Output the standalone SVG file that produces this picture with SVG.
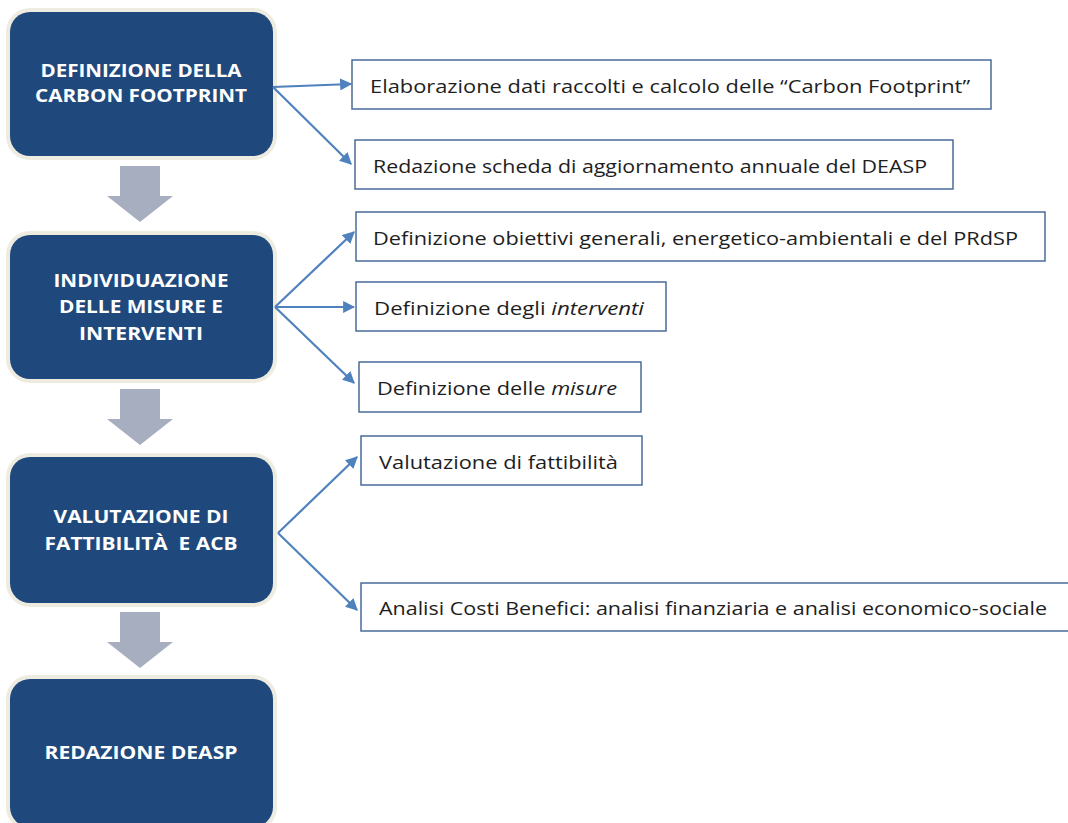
<svg xmlns="http://www.w3.org/2000/svg" width="1068" height="823" viewBox="0 0 1068 823">
<defs>
<style>
.halo{fill:#EEECE1}
.main{fill:#1F497D}
.head{font-family:"Open Sans","Liberation Sans",sans-serif;font-weight:bold;font-size:18px;fill:#FFFFFF;text-anchor:middle}
.tbox{fill:#FFFFFF;stroke:#4A6C9B;stroke-width:1.5}
.lbl{font-family:"Open Sans","Liberation Sans",sans-serif;font-size:19px;fill:#1E1E1E}
.flow{fill:#A7AEBF}
.conn{stroke:#4F81BD;stroke-width:2.2;fill:none;marker-end:url(#ah)}
</style>
<marker id="ah" viewBox="0 0 10 10" refX="9" refY="5" markerWidth="5.5" markerHeight="5.5" orient="auto" markerUnits="strokeWidth">
<path d="M0,0 L10,5 L0,10 z" fill="#4F81BD"/>
</marker>
</defs>
<rect width="1068" height="823" fill="#FFFFFF"/>

<g id="flow-arrows">
<path class="flow" d="M120,166 H160 V196 H173 L140,222 L107,196 H120 Z"/>
<path class="flow" d="M120,389 H160 V419 H173 L140,445 L107,419 H120 Z"/>
<path class="flow" d="M120,612 H160 V642 H173 L140,668 L107,642 H120 Z"/>
</g>

<g id="node-definizione">
<rect class="halo" x="6" y="8" width="271" height="152" rx="24"/>
<rect class="main" x="10" y="12" width="263" height="144" rx="20"/>
<text class="head" x="141" y="77" textLength="201" lengthAdjust="spacingAndGlyphs">DEFINIZIONE DELLA</text>
<text class="head" x="141" y="102" textLength="212" lengthAdjust="spacingAndGlyphs">CARBON FOOTPRINT</text>
</g>

<g id="node-individuazione">
<rect class="halo" x="6" y="231" width="271" height="152" rx="24"/>
<rect class="main" x="10" y="235" width="263" height="144" rx="20"/>
<text class="head" x="141" y="287" textLength="175" lengthAdjust="spacingAndGlyphs">INDIVIDUAZIONE</text>
<text class="head" x="141" y="313" textLength="164" lengthAdjust="spacingAndGlyphs">DELLE MISURE E</text>
<text class="head" x="141" y="340" textLength="124" lengthAdjust="spacingAndGlyphs">INTERVENTI</text>
</g>

<g id="node-valutazione">
<rect class="halo" x="6" y="453" width="271" height="154" rx="24"/>
<rect class="main" x="10" y="457" width="263" height="146" rx="20"/>
<text class="head" x="141" y="523" textLength="175" lengthAdjust="spacingAndGlyphs">VALUTAZIONE DI</text>
<text class="head" x="141" y="550" textLength="193" lengthAdjust="spacingAndGlyphs" xml:space="preserve">FATTIBILITÀ  E ACB</text>
</g>

<g id="node-redazione">
<rect class="halo" x="6" y="675" width="271" height="156" rx="24"/>
<rect class="main" x="10" y="679" width="263" height="148" rx="20"/>
<text class="head" x="141" y="759" textLength="193" lengthAdjust="spacingAndGlyphs">REDAZIONE DEASP</text>
</g>

<g id="connectors">
<line class="conn" x1="273" y1="87" x2="351" y2="84"/>
<line class="conn" x1="273" y1="87" x2="351" y2="164"/>
<line class="conn" x1="275" y1="307" x2="354" y2="232"/>
<line class="conn" x1="275" y1="307" x2="354" y2="307"/>
<line class="conn" x1="275" y1="307" x2="354" y2="383"/>
<line class="conn" x1="278" y1="533" x2="357" y2="457"/>
<line class="conn" x1="278" y1="533" x2="357" y2="610"/>
</g>

<g id="task-elaborazione">
<rect class="tbox" x="352" y="60" width="639" height="49"/>
<text class="lbl" x="370" y="93" textLength="600" lengthAdjust="spacingAndGlyphs">Elaborazione dati raccolti e calcolo delle “Carbon Footprint”</text>
</g>

<g id="task-scheda">
<rect class="tbox" x="355" y="140" width="598" height="49"/>
<text class="lbl" x="373" y="173" textLength="554" lengthAdjust="spacingAndGlyphs">Redazione scheda di aggiornamento annuale del DEASP</text>
</g>

<g id="task-obiettivi">
<rect class="tbox" x="356" y="212" width="689" height="49"/>
<text class="lbl" x="373" y="245" textLength="645" lengthAdjust="spacingAndGlyphs">Definizione obiettivi generali, energetico-ambientali e del PRdSP</text>
</g>

<g id="task-interventi">
<rect class="tbox" x="356" y="282" width="310" height="49"/>
<text class="lbl" x="374" y="315" textLength="270" lengthAdjust="spacingAndGlyphs">Definizione degli <tspan font-style="italic">interventi</tspan></text>
</g>

<g id="task-misure">
<rect class="tbox" x="359" y="362" width="282" height="50"/>
<text class="lbl" x="377" y="395" textLength="240" lengthAdjust="spacingAndGlyphs">Definizione delle <tspan font-style="italic">misure</tspan></text>
</g>

<g id="task-fattibilita">
<rect class="tbox" x="361" y="436" width="281" height="49"/>
<text class="lbl" x="379" y="469" textLength="239" lengthAdjust="spacingAndGlyphs">Valutazione di fattibilità</text>
</g>

<g id="task-acb">
<rect class="tbox" x="361" y="583" width="710" height="48"/>
<text class="lbl" x="379" y="615" textLength="668" lengthAdjust="spacingAndGlyphs">Analisi Costi Benefici: analisi finanziaria e analisi economico-sociale</text>
</g>
</svg>
